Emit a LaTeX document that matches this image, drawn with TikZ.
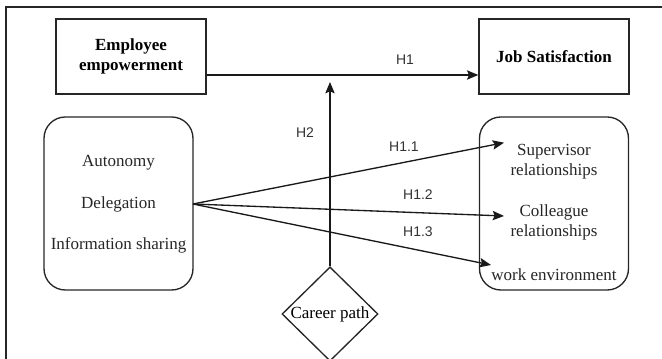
\documentclass[tikz,border=0pt]{standalone}
\usepackage{fontspec}
\setmainfont{Liberation Serif}
\newfontfamily\labfont{Liberation Sans}
\usetikzlibrary{shapes.geometric,arrows.meta}
\begin{document}
\begin{tikzpicture}[x=0.75pt,y=-0.75pt,
  box/.style={draw=black!85,line width=1pt,minimum width=112.5pt,minimum height=56.25pt,inner sep=0pt,align=center,font=\fontsize{12.75pt}{15pt}\selectfont\bfseries},
  rbox/.style={draw=black!85,line width=1pt,rounded corners=16pt,minimum width=111.75pt,minimum height=129.75pt,inner sep=0pt},
  serif/.style={font=\fontsize{12.75pt}{15pt}\selectfont,text=black!85,inner sep=0pt,align=center},
  lab/.style={font=\labfont\fontsize{10.5pt}{12pt}\selectfont,text=black!80,inner sep=0pt},
  arr/.style={draw=black!90,line width=1pt,-{Stealth[length=8.5pt,width=7pt,inset=1.5pt]}},
  frameline/.style={draw=black!85,line width=1.1pt}]
\useasboundingbox (0,0) rectangle (662,359);
% frame
\coordinate (fr1) at (662,7);
\coordinate (fr2) at (6,7);
\coordinate (fr3) at (6,359);
\draw[frameline] (fr1) -- (fr2) -- (fr3);
% nodes
\node[box] (emp) at (131,56.5) {Employee\\empowerment};
\node[box] (job) at (554,56.5) {Job Satisfaction};
\node[rbox] (dims) at (118.5,203.5) {};
\node[rbox] (outs) at (554,203.5) {};
\node[serif] (auto) at (118.5,163) {Autonomy};
\node[serif] (dele) at (118.5,204) {Delegation};
\node[serif] (info) at (118.5,245) {Information sharing};
\node[serif] (sup) at (554,162) {Supervisor\\relationships};
\node[serif] (col) at (554,222) {Colleague\\relationships};
\node[serif] (work) at (554,275) {work environment};
\node[diamond,draw=black!85,line width=1pt,minimum width=72pt,minimum height=70.5pt,inner sep=0pt,font=\fontsize{12.75pt}{15pt}\selectfont] (cp) at (330,314) {Career path};
% coordinates
\coordinate (h1y) at (0,75);
\coordinate (h2tip) at (330,82);
\coordinate (src) at (193,204);
\coordinate (t1) at (504,142.7);
\coordinate (t2) at (504,216);
\coordinate (t3) at (491,265);
% connectors
\draw[arr] (emp.east |- h1y) -- (job.west |- h1y);
\draw[arr] (cp.north) -- (h2tip);
\draw[arr] (src) -- (t1);
\draw[arr] (src) -- (t2);
\draw[arr] (src) -- (t3);
% labels
\node[lab] (lh1) at (405,60) {H1};
\node[lab] (lh2) at (305,133) {H2};
\node[lab] (lh11) at (404,147) {H1.1};
\node[lab] (lh12) at (418,195) {H1.2};
\node[lab] (lh13) at (418,232) {H1.3};
\end{tikzpicture}
\end{document}
